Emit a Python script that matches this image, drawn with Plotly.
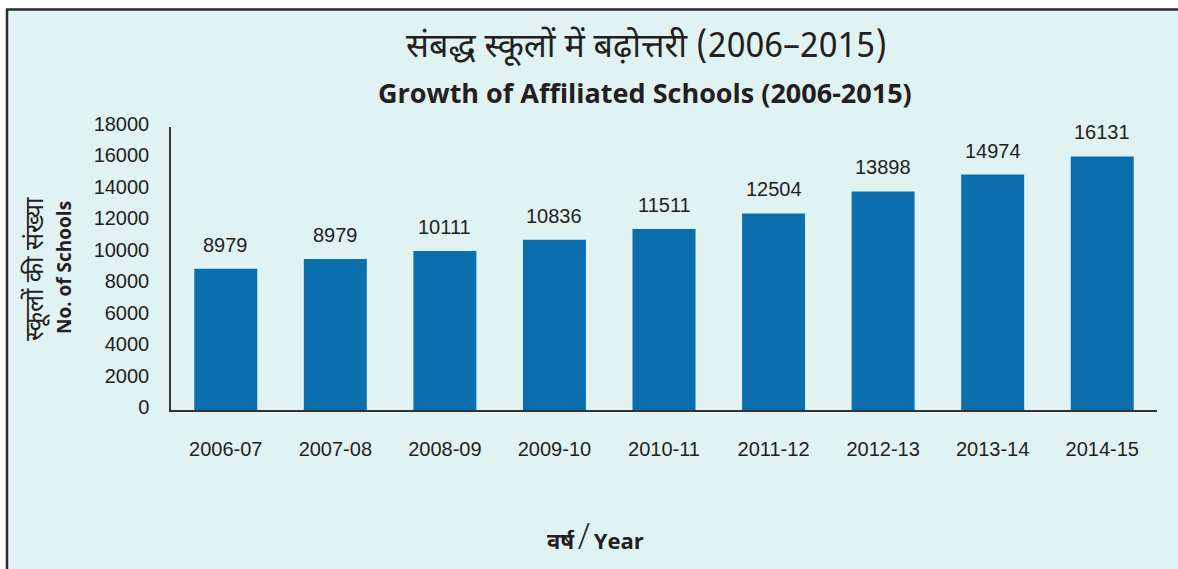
import plotly.graph_objects as go

# Data
years = ["2006-07", "2007-08", "2008-09", "2009-10", "2010-11",
         "2011-12", "2012-13", "2013-14", "2014-15"]
bar_values = [8979, 9600, 10111, 10836, 11511, 12504, 13898, 14974, 16131]
bar_labels = ["8979", "8979", "10111", "10836", "11511", "12504", "13898", "14974", "16131"]
y_ticks = [0, 2000, 4000, 6000, 8000, 10000, 12000, 14000, 16000, 18000]

title_hi = "संबद्ध स्कूलों में बढ़ोत्तरी (2006–2015)"
title_en = "Growth of Affiliated Schools (2006-2015)"
ytitle_hi = "स्कूलों की संख्या"
ytitle_en = "No. of Schools"
xtitle_hi = "वर्ष"
xtitle_en = "Year"

BG = "#e0f2f2"
BAR = "#0b6fae"
TXT = "#231f20"
NUM_FONT = "Liberation Sans, Arial, sans-serif"
HI_FONT = "Noto Sans Devanagari, Noto Sans, sans-serif"
EN_FONT = "Open Sans, Noto Sans, sans-serif"

W, H = 1178, 569
L, R, T, B = 171, 21, 127, 159
PW, PH = W - L - R, H - T - B


def px(xp):
    return (xp - L) / PW


def py(yp):
    return (H - B - yp) / PH


fig = go.Figure()
fig.add_trace(go.Bar(x=years, y=bar_values, marker=dict(color=BAR, line=dict(width=0)),
                     hoverinfo="x+y"))

annotations = []
for yr, v, lab in zip(years, bar_values, bar_labels):
    annotations.append(dict(x=yr, y=v, xref="x", yref="y", text=lab, showarrow=False,
                            yanchor="middle", yshift=24,
                            font=dict(family=NUM_FONT, size=20, color=TXT)))

annotations += [
    dict(x=px(646), y=py(48), xref="paper", yref="paper", text=title_hi, showarrow=False,
         xanchor="center", yanchor="middle", font=dict(family=HI_FONT, size=34, color=TXT)),
    dict(x=px(645), y=py(92), xref="paper", yref="paper", text="<b>" + title_en + "</b>",
         showarrow=False, xanchor="center", yanchor="middle",
         font=dict(family=EN_FONT, size=27, color=TXT)),
    dict(x=px(36), y=py(269), xref="paper", yref="paper", text=ytitle_hi, showarrow=False,
         textangle=-90, xanchor="center", yanchor="middle",
         font=dict(family=HI_FONT, size=25, color=TXT)),
    dict(x=px(64), y=py(268), xref="paper", yref="paper", text="<b>" + ytitle_en + "</b>",
         showarrow=False, textangle=-90, xanchor="center", yanchor="middle",
         font=dict(family=EN_FONT, size=19, color=TXT)),
    dict(x=px(595), y=py(535), xref="paper", yref="paper",
         text="<b>" + xtitle_hi + "</b>\u2009<span style='font-size:36px;font-weight:300'>/</span>\u2009<b>" + xtitle_en + "</b>",
         showarrow=False, xanchor="center", yanchor="middle",
         font=dict(family=EN_FONT, size=22, color=TXT)),
]

shapes = [
    dict(type="rect", xref="paper", yref="paper", layer="below",
         x0=px(7), x1=px(1200), y0=py(600), y1=py(9.5),
         line=dict(color="#2b2b2b", width=2.5), fillcolor=BG),
]

fig.update_layout(
    width=W, height=H,
    margin=dict(l=L, r=R, t=T, b=B, pad=0),
    paper_bgcolor="white",
    plot_bgcolor=BG,
    showlegend=False,
    bargap=0.425,
    annotations=annotations,
    shapes=shapes,
    xaxis=dict(
        type="category", showline=True, linecolor="#333333", linewidth=2,
        ticks="", showgrid=False, zeroline=False,
        tickfont=dict(family=NUM_FONT, size=20, color=TXT),
        ticklabelstandoff=20,
    ),
    yaxis=dict(
        range=[0, 18000], tickvals=y_ticks, ticktext=[str(t) for t in y_ticks],
        showline=True, linecolor="#333333", linewidth=1.5,
        ticks="", showgrid=False, zeroline=False,
        tickfont=dict(family=NUM_FONT, size=20, color=TXT),
        ticklabelstandoff=16, ticklabelshift=-3,
    ),
)

fig.write_html("out.html", config={"displayModeBar": False},
               post_script="document.body.style.margin='0';document.body.style.overflow='hidden';")
